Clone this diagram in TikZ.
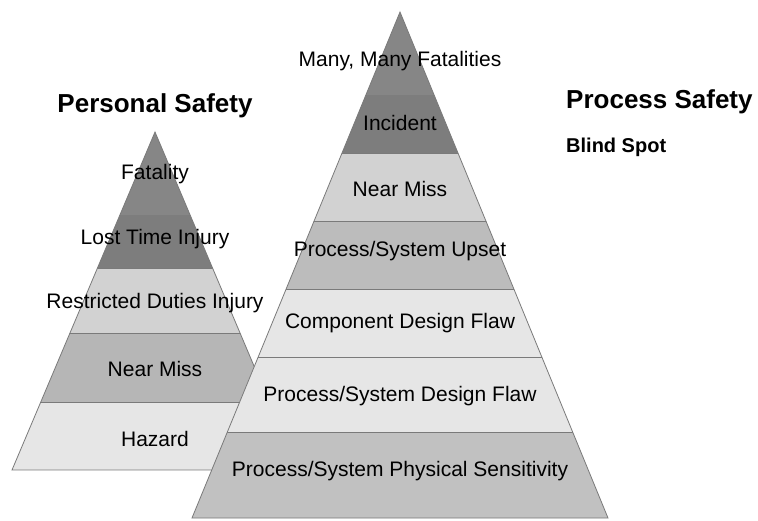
\documentclass[tikz,border=0pt]{standalone}
\usepackage{fontspec}
\setmainfont{Liberation Sans}
\definecolor{darktop}{HTML}{868686}
\definecolor{darklow}{HTML}{7D7D7D}
\definecolor{midgray}{HTML}{B6B6B6}
\definecolor{palegray}{HTML}{D2D2D2}
\definecolor{lightgray}{HTML}{E6E6E6}
\definecolor{rimgray}{HTML}{7A7A7A}
\begin{document}
\begin{tikzpicture}[x=1pt,y=-1pt,
    tier/.style={font=\fontsize{21}{24}\selectfont, inner sep=0pt},
    heading/.style={font=\fontsize{26}{30}\selectfont\bfseries, inner sep=0pt},
    subheading/.style={font=\fontsize{20}{24}\selectfont\bfseries, inner sep=0pt},
    rim/.style={draw=rimgray, line width=0.8pt}]
\useasboundingbox[fill=white] (0,0) rectangle (758,520);

% personal safety pyramid
\begin{scope}
    \clip (155,132) -- (12,470) -- (298,470) -- cycle;
    \fill[darktop] (0,120) rectangle (758,215);
    \fill[darklow] (0,215) rectangle (758,268);
    \fill[palegray] (0,268) rectangle (758,333);
    \fill[midgray] (0,333) rectangle (758,402);
    \fill[lightgray] (0,402) rectangle (758,470);
    \draw[rim] (0,268) -- (758,268) (0,333) -- (758,333) (0,402) -- (758,402);
\end{scope}
\draw[rim] (155,132) -- (12,470) -- (298,470) -- cycle;

\node[tier] at (155,174)(fatality){Fatality};
\node[tier] at (155,239)(losttime){Lost Time Injury};
\node[tier] at (155,303)(restricted){Restricted Duties Injury};
\node[tier] at (155,369)(nearmissp){Near Miss};
\node[tier] at (155,439)(hazard){Hazard};

% process safety pyramid
\begin{scope}
    \clip (400,12) -- (192,518) -- (608,518) -- cycle;
    \fill[darktop] (0,0) rectangle (758,95);
    \fill[darklow] (0,95) rectangle (758,153);
    \fill[palegray] (0,153) rectangle (758,221);
    \fill[midgray!80!palegray] (0,221) rectangle (758,289);
    \fill[lightgray] (0,289) rectangle (758,432);
    \fill[midgray!60!palegray] (0,432) rectangle (758,520);
    \draw[rim] (0,153) -- (758,153) (0,221) -- (758,221) (0,289) -- (758,289)
        (0,357) -- (758,357) (0,432) -- (758,432);
\end{scope}
\draw[rim] (400,12) -- (192,518) -- (608,518) -- cycle;

\node[tier] at (400,61)(fatalities){Many, Many Fatalities};
\node[tier] at (400,123)(incident){Incident};
\node[tier] at (400,189)(nearmissq){Near Miss};
\node[tier] at (400,251)(upset){Process/System Upset};
\node[tier] at (400,323)(component){Component Design Flaw};
\node[tier] at (400,396)(designflaw){Process/System Design Flaw};
\node[tier] at (400,471)(sensitivity){Process/System Physical Sensitivity};

% headings
\node[heading] at (155,106)(personal){Personal Safety};
\node[heading, anchor=west] at (566,102)(process){Process Safety};
\node[subheading, anchor=west] at (566,147)(blindspot){Blind Spot};
\end{tikzpicture}
\end{document}
